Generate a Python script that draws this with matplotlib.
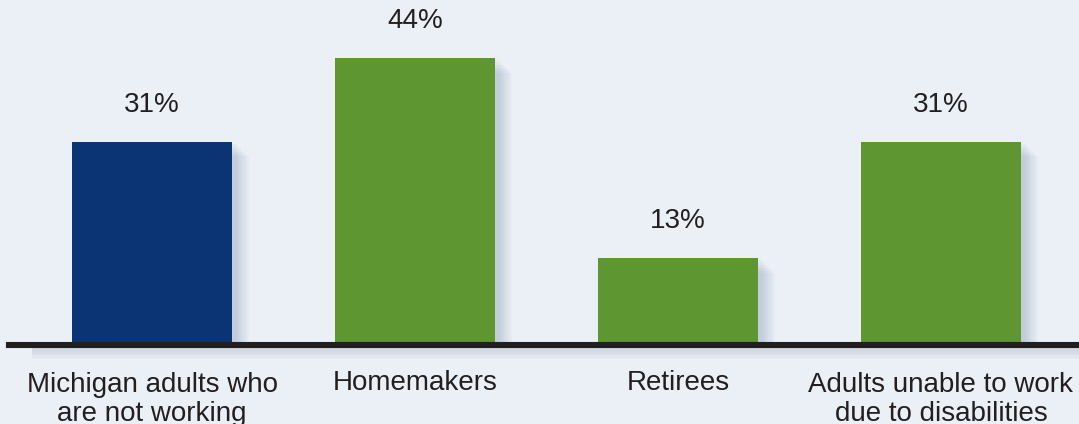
import matplotlib
matplotlib.use("Agg")
import matplotlib.pyplot as plt
from matplotlib.patches import Rectangle

categories = ["Michigan adults who\nare not working", "Homemakers", "Retirees",
              "Adults unable to work\ndue to disabilities"]
values = [31, 44, 13, 31]
value_labels = ["31%", "44%", "13%", "31%"]
colors = ["#0A3474", "#5E9732", "#5E9732", "#5E9732"]

BG = "#EBF0F7"
plt.rcParams['font.family'] = ['Liberation Sans', 'DejaVu Sans']

fig = plt.figure(figsize=(10.79, 4.24), dpi=100, facecolor=BG)
ax = fig.add_axes([0, 0, 1, 1], facecolor=BG)
ax.set_xlim(-0.578, 3.525)
ax.set_ylim(-12.7, 53.0)
ax.axis('off')

width = 0.608
xs = list(range(len(values)))

# soft shadows to the right of each bar
for x, v in zip(xs, values):
    for k in range(1, 10):
        dx = 0.006 * k
        ax.add_patch(Rectangle((x - width / 2 + 0.01, 0), width + dx, v - 0.25 * k,
                               facecolor="#6A7A9A", alpha=0.035, lw=0, zorder=1))
# shadow under the baseline
for k in range(1, 9):
    ax.axhspan(-0.9 - 0.22 * k, -0.9, xmin=0.03, xmax=1.0, facecolor="#7888A8",
               alpha=0.03, lw=0, zorder=1)

ax.bar(xs, values, width=width, color=colors, zorder=3, linewidth=0)

ax.axhline(-0.45, xmin=9 / 1079, xmax=1.0, color="#231F20", lw=4.4, zorder=4)

for x, v, lab in zip(xs, values, value_labels):
    ax.annotate(lab, (x, v), xytext=(0, 26.5), textcoords="offset points",
                ha="center", va="center", fontsize=20, color="#231F20")

for x, cat in zip(xs, categories):
    if "\n" in cat:
        ax.text(x, -8.95, cat, ha="center", va="center", fontsize=20,
                color="#231F20", linespacing=1.15)
    else:
        ax.text(x, -6.36, cat, ha="center", va="center", fontsize=20,
                color="#231F20")

fig.savefig("out.png", dpi=100, facecolor=BG)
